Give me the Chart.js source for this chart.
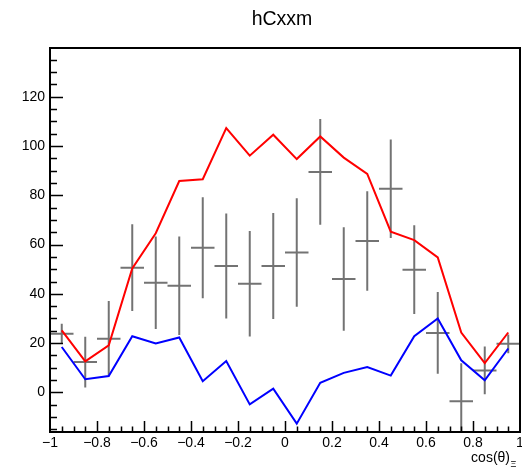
<!DOCTYPE html>
<html>
<head>
<meta charset="utf-8">
<title>hCxxm</title>
<script src="https://cdn.jsdelivr.net/npm/chart.js@4"></script>
<style>
  html, body { margin: 0; padding: 0; background: #fff; }
  #wrap { width: 522px; height: 469px; }
</style>
</head>
<body>
<div id="wrap"><canvas id="hCxxm" width="522" height="469"></canvas></div>
<script>
// bin centres of cos(theta), 20 bins of width 0.1
const binWidth = 0.1;
const binCenters = [-0.95, -0.85, -0.75, -0.65, -0.55, -0.45, -0.35, -0.25, -0.15, -0.05,
                    0.05, 0.15, 0.25, 0.35, 0.45, 0.55, 0.65, 0.75, 0.85, 0.95];

// measured histogram (black, with errors)
const dataVals = [23.8, 12.3, 21.8, 50.6, 44.5, 43.3, 58.7, 51.3, 44.1, 51.3,
                  56.8, 89.5, 46.0, 61.4, 82.7, 49.8, 24.1, -3.6, 8.9, 19.7];
const dataErrs = [4.0, 10.3, 15.3, 17.6, 18.8, 20.0, 20.5, 21.3, 21.4, 21.5,
                  22.0, 21.5, 21.0, 20.2, 20.0, 18.0, 16.6, 15.4, 9.7, 3.8];

// red and blue curves
const redVals = [25.2, 12.6, 19.1, 50.3, 64.6, 85.8, 86.5, 107.3, 96.1, 104.6,
                 94.7, 103.9, 95.3, 88.7, 65.2, 61.8, 54.8, 24.3, 11.9, 24.3];
const blueVals = [18.4, 5.3, 6.6, 22.8, 19.8, 22.3, 4.5, 12.7, -4.9, 1.5,
                  -12.7, 3.9, 7.9, 10.3, 6.8, 22.8, 30.0, 13.0, 4.9, 17.8];

const xRange = [-1, 1];
const yRange = [-16.1, 139.8];

const FONT = "'Liberation Sans', Arial, Helvetica, sans-serif";

function fmt(v) {
  const r = Math.round(v * 10) / 10;
  if (r === 0) return '0';
  return (r < 0 ? '\u2212' : '') + Math.abs(r);
}

// error bars for the black histogram
const errorBars = {
  id: 'errorBars',
  beforeDatasetsDraw(chart) {
    const { ctx, chartArea: a, scales: { x, y } } = chart;
    ctx.save();
    ctx.beginPath();
    ctx.rect(a.left, a.top, a.width + 3, a.height);
    ctx.clip();
    ctx.strokeStyle = 'rgba(0,0,0,0.55)';
    ctx.lineWidth = 2;
    binCenters.forEach((c, i) => {
      const px = x.getPixelForValue(c);
      const py = y.getPixelForValue(dataVals[i]);
      ctx.beginPath();
      ctx.moveTo(x.getPixelForValue(c - binWidth / 2), py);
      ctx.lineTo(x.getPixelForValue(c + binWidth / 2), py);
      ctx.moveTo(px, y.getPixelForValue(dataVals[i] + dataErrs[i]));
      ctx.lineTo(px, y.getPixelForValue(dataVals[i] - dataErrs[i]));
      ctx.stroke();
    });
    ctx.restore();
  }
};

// ROOT style frame, inward ticks, title and axis title
const rootFrame = {
  id: 'rootFrame',
  afterDraw(chart) {
    const { ctx, chartArea: a, scales: { x, y } } = chart;
    ctx.save();
    ctx.strokeStyle = '#000';

    // ticks on x every 0.05, long every 0.2
    ctx.lineWidth = 1.5;
    ctx.beginPath();
    for (let k = 1; k < 40; k++) {
      const v = -1 + k * 0.05;
      const px = Math.round(x.getPixelForValue(v)) + 0.5;
      const len = (k % 4 === 0) ? 11 : 5.5;
      ctx.moveTo(px, a.bottom);
      ctx.lineTo(px, a.bottom - len);
    }
    // ticks on y every 5, long every 20
    for (let v = -15; v <= 135; v += 5) {
      const py = Math.round(y.getPixelForValue(v)) + 0.5;
      const len = (v % 20 === 0) ? 13 : 7;
      ctx.moveTo(a.left, py);
      ctx.lineTo(a.left + len, py);
    }
    ctx.stroke();

    // frame
    ctx.lineWidth = 2;
    ctx.strokeRect(a.left, a.top, a.width, a.height);

    // title
    ctx.fillStyle = '#000';
    ctx.textAlign = 'center';
    ctx.textBaseline = 'alphabetic';
    ctx.font = '19.5px ' + FONT;
    ctx.fillText('hCxxm', 282, 25);

    // x axis title
    ctx.font = '14px ' + FONT;
    ctx.textAlign = 'right';
    ctx.fillText('cos(\u03b8)', 510, 462);
    ctx.font = '9px ' + FONT;
    ctx.textAlign = 'left';
    ctx.fillText('\u039e', 510.5, 467);
    ctx.restore();
  }
};

new Chart(document.getElementById('hCxxm'), {
  type: 'line',
  data: {
    datasets: [
      {
        label: 'red',
        data: binCenters.map((c, i) => ({ x: c, y: redVals[i] })),
        borderColor: '#ff0000',
        borderWidth: 2,
        pointRadius: 0,
        tension: 0,
        fill: false
      },
      {
        label: 'blue',
        data: binCenters.map((c, i) => ({ x: c, y: blueVals[i] })),
        borderColor: '#0000ff',
        borderWidth: 2,
        pointRadius: 0,
        tension: 0,
        fill: false
      }
    ]
  },
  options: {
    responsive: false,
    devicePixelRatio: 1,
    animation: false,
    layout: { padding: { top: 48, right: 2, left: 0, bottom: 0 } },
    plugins: {
      legend: { display: false },
      tooltip: { enabled: false },
      title: { display: false }
    },
    scales: {
      x: {
        type: 'linear',
        min: xRange[0],
        max: xRange[1],
        grid: { display: false, drawTicks: false },
        border: { display: false },
        ticks: {
          stepSize: 0.2,
          autoSkip: false,
          maxRotation: 0,
          padding: 3,
          color: '#000',
          font: { family: FONT, size: 14 },
          callback: v => fmt(v)
        },
        afterFit: s => { s.height = 37; s.paddingLeft = 0; s.paddingRight = 0; }
      },
      y: {
        type: 'linear',
        min: yRange[0],
        max: yRange[1],
        grid: { display: false, drawTicks: false },
        border: { display: false },
        ticks: {
          stepSize: 20,
          includeBounds: false,
          padding: 5,
          color: '#000',
          font: { family: FONT, size: 14 },
          callback: v => fmt(v)
        },
        afterFit: s => { s.width = 50; s.paddingTop = 0; s.paddingBottom = 0; }
      }
    }
  },
  plugins: [errorBars, rootFrame]
});
</script>
</body>
</html>
